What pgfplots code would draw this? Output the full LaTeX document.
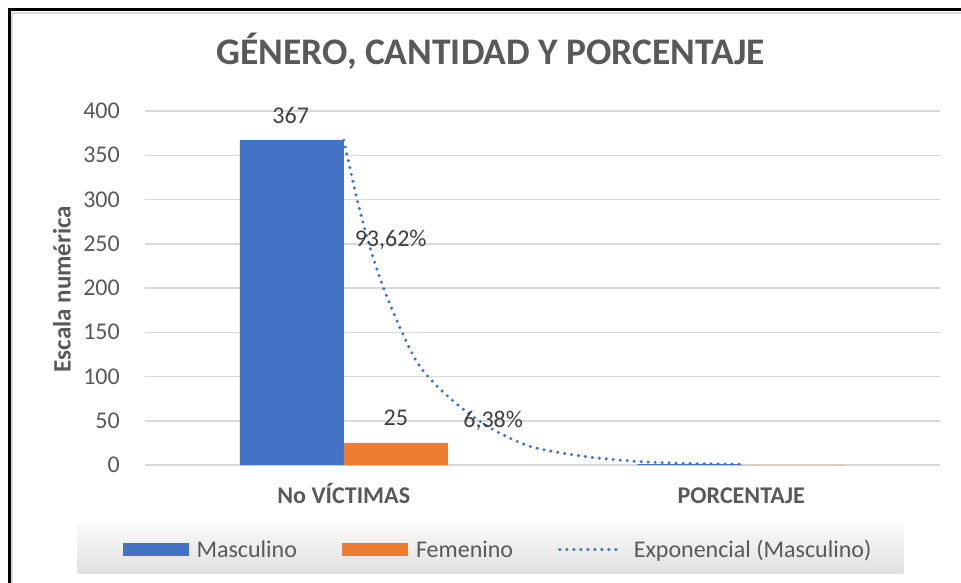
\documentclass[border=0pt]{standalone}
\usepackage{fontspec}
\setmainfont{Carlito}
\usepackage{pgfplots}
\pgfplotsset{compat=1.18}

\definecolor{mblue}{HTML}{4472C4}
\definecolor{morange}{HTML}{ED7D31}
\definecolor{txtgray}{HTML}{595959}
\definecolor{lblgray}{HTML}{404040}
\definecolor{gridgray}{HTML}{D9D9D9}

\newcommand{\tickfont}{\fontsize{24}{28}\selectfont}

\pgfplotsset{
  barlegend/.style={legend image code/.code={%
    \fill[##1,draw=none] (0pt,-6.5pt) rectangle (66pt,6.5pt);}},
  firstlegend/.style={legend image code/.code={%
    \path[draw=none,fill=none] (-21pt,0pt) -- (0pt,0pt);
    \fill[##1,draw=none] (0pt,-6.5pt) rectangle (66pt,6.5pt);}},
  linelegend/.style={legend image code/.code={%
    \draw[##1] (0pt,0pt) -- (61pt,0pt); \path[draw=none,fill=none] (0pt,0pt) -- (66pt,0pt);}},
}

\begin{document}
\begin{tikzpicture}
\useasboundingbox (0,0) rectangle (961pt,582pt);
\fill[white] (0,0) rectangle (961pt,582pt);
% outer frame (only left and top visible)
\draw[gridgray, line width=1.5pt] (12pt,-5pt) -- (12pt,569pt) -- (970pt,569pt);
\draw[black, line width=3pt] (9pt,-5pt) -- (9pt,572pt) -- (970pt,572pt);

\begin{axis}[
    at={(145pt,117pt)}, anchor=south west,
    scale only axis, width=795pt, height=354pt,
    clip mode=individual,
    xmin=-0.5, xmax=1.5, ymin=0, ymax=400,
    ytick distance=50,
    xtick={0,1},
    xticklabels={\bfseries No VÍCTIMAS, \bfseries PORCENTAJE},
    major tick length=0pt,
    axis line style={draw=none},
    ymajorgrids,
    grid style={gridgray, line width=1.5pt},
    /pgf/number format/assume math mode=true,
    tick label style={font=\tickfont, text=txtgray},
    yticklabel style={anchor=east, inner sep=0pt, xshift=-25pt},
    xticklabel style={anchor=base, inner sep=0pt, yshift=-38pt},
    ylabel={\bfseries Escala numérica},
    ylabel style={font=\fontsize{25}{29}\selectfont, text=txtgray, at={(axis description cs:-0.1044,0.497)}, anchor=center, rotate=0},
    title={\bfseries GÉNERO, CANTIDAD Y PORCENTAJE},
    title style={font=\fontsize{37.5}{42}\selectfont, text=txtgray, at={(axis description cs:0.435,1.113)}, anchor=base},
    legend columns=3,
    legend cell align=left,
    legend style={at={(axis description cs:0.4346,-0.2387)}, anchor=center,
      draw=none, top color=gray!5, bottom color=gray!24,
      font=\tickfont, text=txtgray, inner xsep=24pt, inner ysep=12pt,
      nodes={inner xsep=8pt},
      /tikz/every even column/.append style={column sep=37pt}},
]
\addplot[ybar, bar width=104pt, bar shift=-52pt, fill=mblue, draw=none, firstlegend]
  coordinates {(0,367) (1,0.9362)};
\addlegendentry{Masculino}
\addplot[ybar, bar width=104pt, bar shift=52pt, fill=morange, draw=none, barlegend]
  coordinates {(0,25) (1,0.0638)};
\addlegendentry{Femenino}
\addplot[mblue, line width=3.4pt, line cap=round, dash pattern=on 0pt off 7pt, smooth, linelegend]
  coordinates {(0,367) (0.034,299.4) (0.068,243) (0.102,197.7) (0.144,152.5)
   (0.186,114.9) (0.236,88.5) (0.303,62.1) (0.378,39.5) (0.471,20.7)
   (0.597,10.2) (0.723,4.5) (0.849,1.9) (1.0,0.94)};
\addlegendentry{Exponencial (Masculino)}

\node[font=\tickfont, text=lblgray] at (axis cs:-0.1335,395.5) {367};
\node[font=\tickfont, text=lblgray] at (axis cs:0.131,53.1) {25};
\node[font=\tickfont, text=lblgray] at (axis cs:0.118,254) {93,62\%};
\node[font=\tickfont, text=lblgray] at (axis cs:0.376,50.3) {6,38\%};
\end{axis}
\end{tikzpicture}
\end{document}
